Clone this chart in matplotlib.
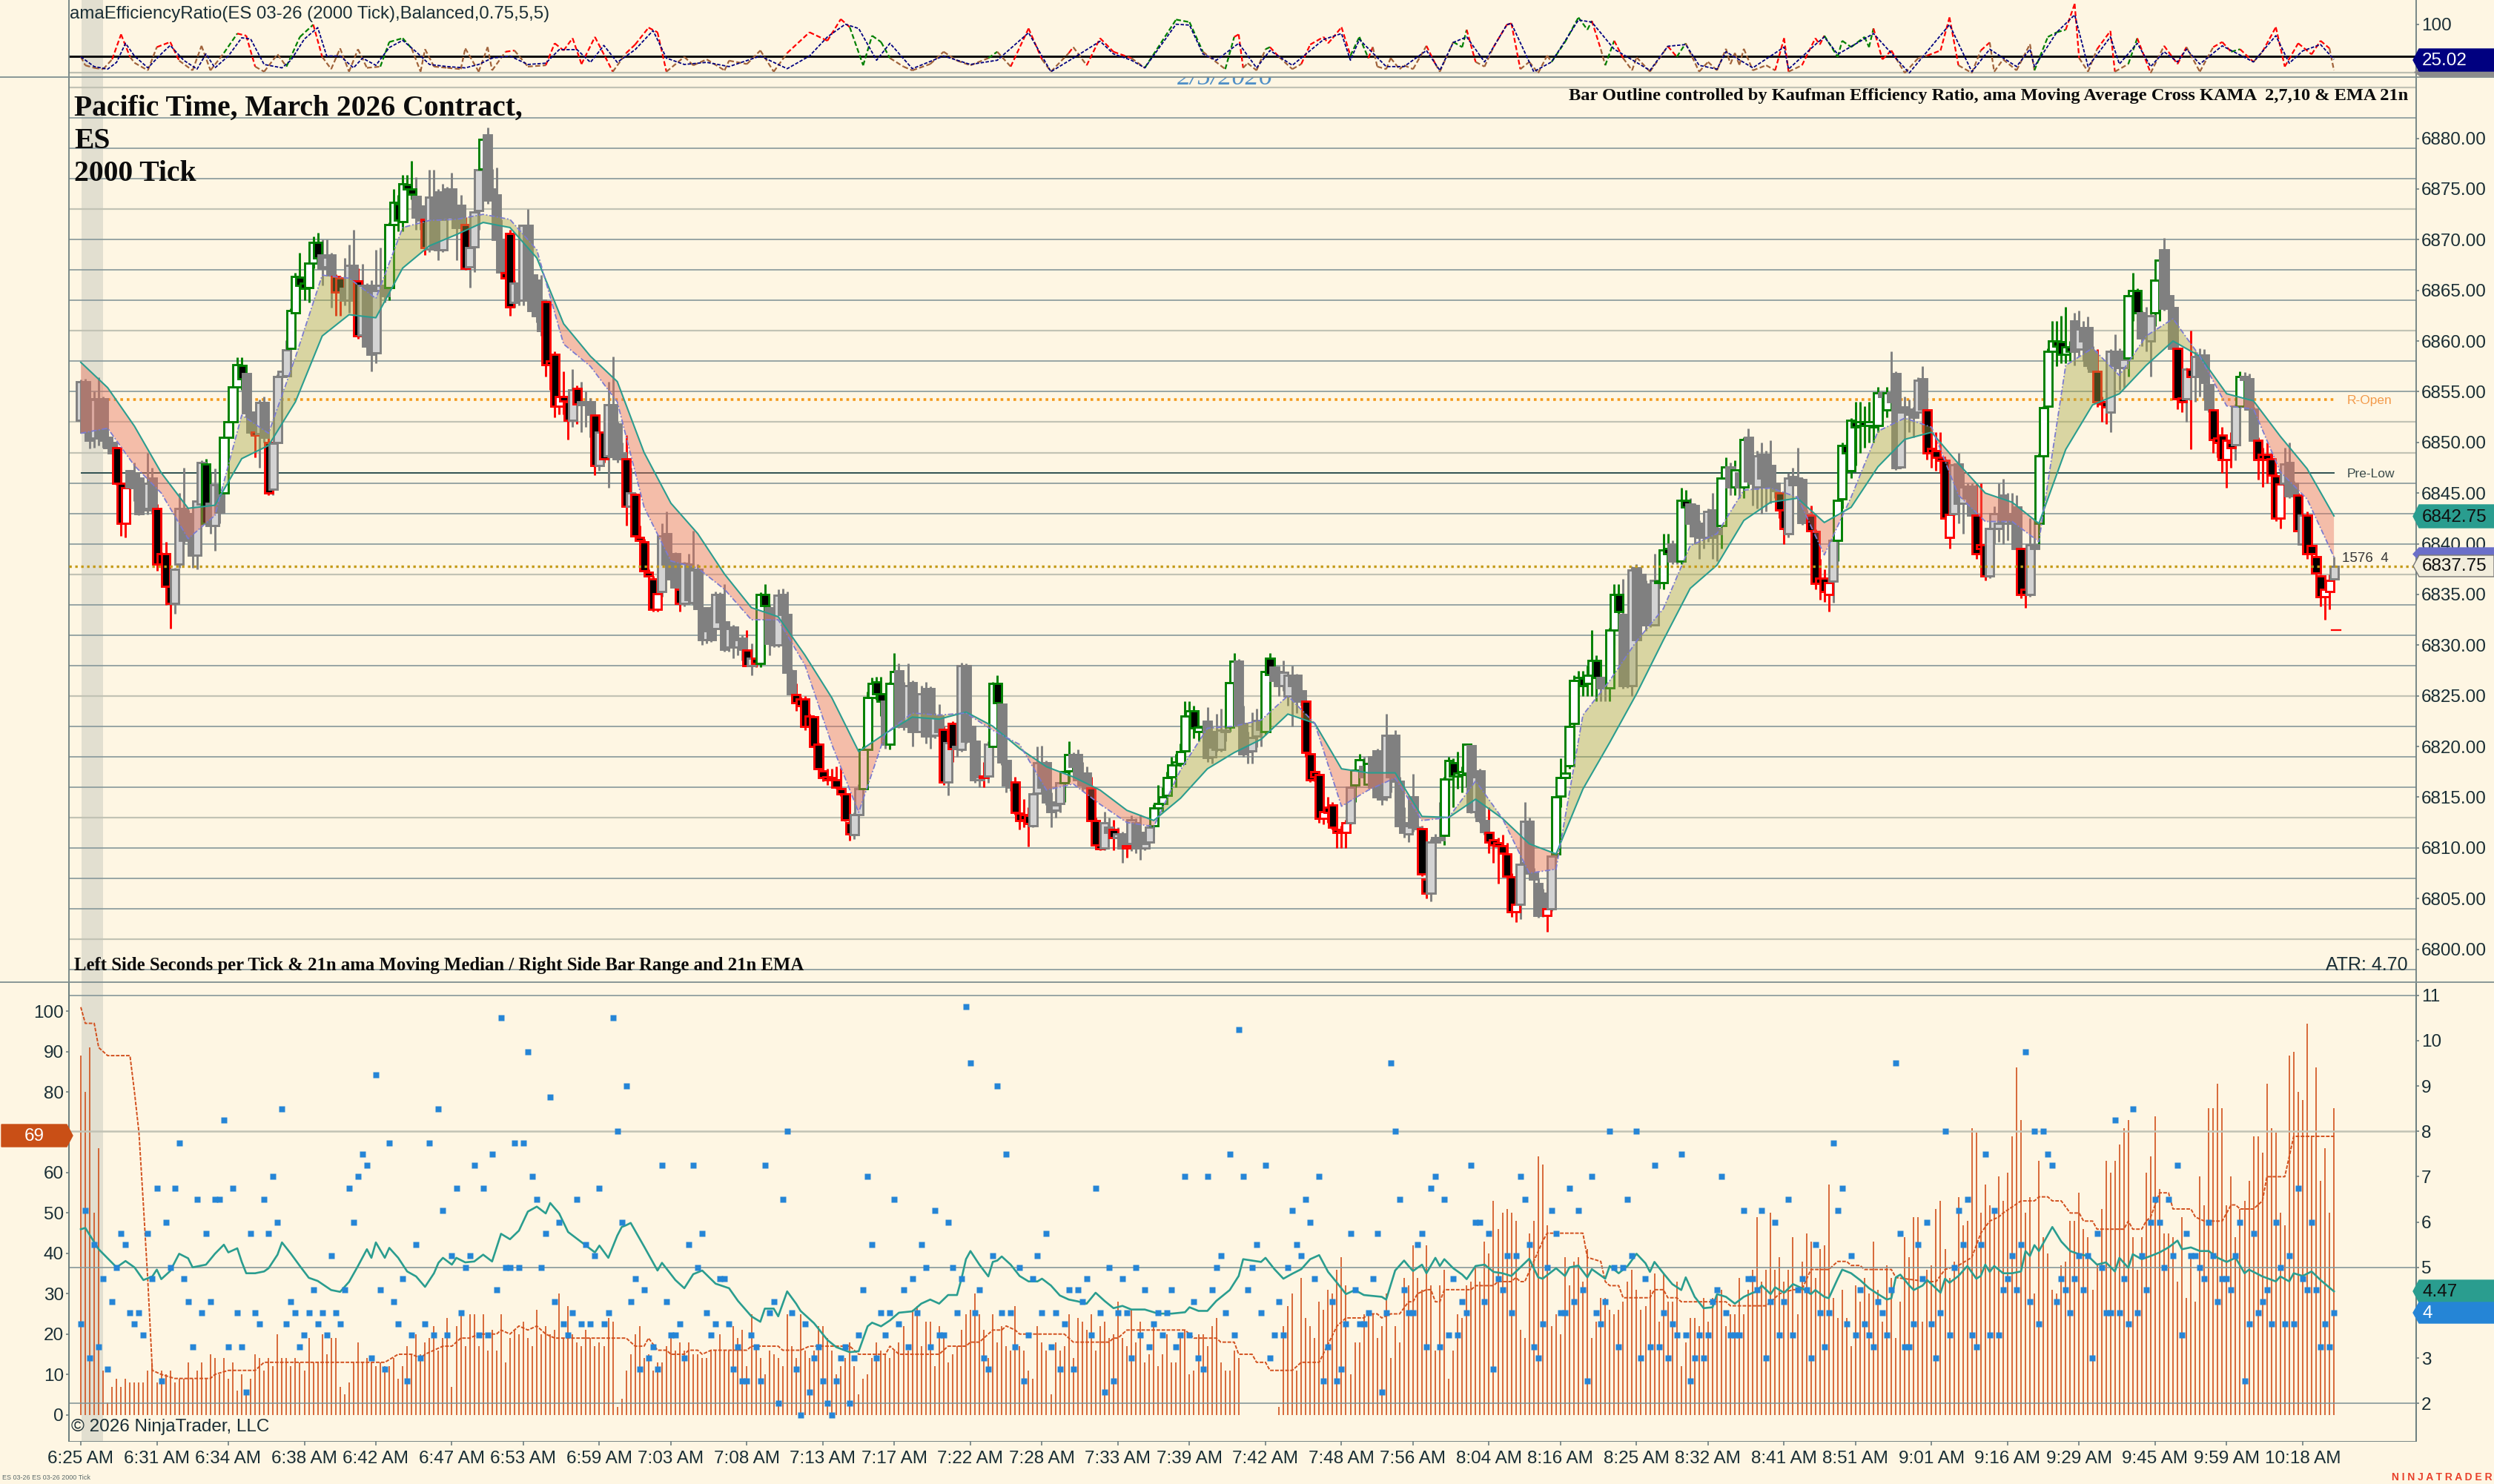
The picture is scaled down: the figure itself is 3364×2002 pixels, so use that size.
# ES 2000 tick chart, three panels, laid out in pixels of the 3364x2002 image
import matplotlib
matplotlib.use("Agg")
import matplotlib.pyplot as plt
from matplotlib.patches import Polygon
from matplotlib.lines import Line2D
import numpy as np

W, H = 3364, 2002
BG = "#FEF6E3"
SANS = "Liberation Sans"
SERIF = "Liberation Serif"

# price values are stored as points above 6800
opens = [
52.2,56,54.3,50.4,54.3,54.3,50.5,50,49.5,46,
42,47.2,47,46.5,46,43.5,46.5,43.5,39,39,
35.8,34.1,38,43.5,43,43,38.9,43.9,47.9,44,
41.8,45.8,45,50.5,52,55.5,57.6,56.8,53,51,
50.9,53.9,50,45.4,50,56.5,56.6,59.3,62.8,66.3,
65.7,65.3,67.7,69.7,68.5,67.3,68.5,66.4,66.2,65.2,
64,67.5,65.9,60.6,65.5,65.5,58.8,65,65.5,65.3,
71.5,73.5,71.8,75.4,75,74.3,73.3,72,69.1,74.2,
74.7,69,75,75,73,73.4,71.5,67.3,69.3,72.9,
77,80.3,75,74.4,70,66.7,70.6,63.8,65.7,64,
71.4,66.5,66,64,63.9,58,58.7,53.6,54.5,54,
52.2,55.3,54,54,54,52.7,47.7,51,48.7,53.7,
51.8,49,48.4,43.7,44.9,40.6,40.2,37.2,36.5,33.5,
35.3,41,38.7,39,35.5,34.1,38,34.2,37.5,33.7,
30.5,33.7,31.6,35,32.3,29.8,31.8,29.8,30.7,29.5,
28,28.7,28.2,35,33.7,33,30,35,33,27.5,
25.1,24.7,24.7,23,22.9,20.2,17.6,17,16.9,16.7,
15.8,15.3,12.5,11.3,13.3,15.8,19.7,24.8,26.4,25.2,
24.5,20.2,26.2,27.5,26,22.4,26.3,24,21.5,25.7,
25.7,21.1,23,21.7,16.5,22.3,20,19.7,28,22,
20.5,16.7,17.1,17.1,20,26.2,24.2,18.6,16.5,16.5,
13.4,13.3,13.2,12.2,15.4,18.4,18.4,14.5,13.7,14.4,
16.4,17.6,19.2,19.2,17.4,17.4,15.9,12.7,10.3,10,
12,11.8,11,11.4,10,10.4,12.5,11.5,10,10.6,
12.2,13.9,14.4,15.2,17,18.2,18.3,19.6,23,23.5,
21.5,21.9,22.5,19,21.5,19.7,21.6,21.9,26.3,28.4,
22.3,20.5,19.6,21,22.6,21.5,28.7,27.8,27.4,26,
25,27,27,25.5,24.5,19.3,17.5,17.2,12.9,14,
14.2,11.8,11.5,11.5,12.5,16.2,17.7,18,16.3,19,
19.6,15,15,21,21.1,16.6,12.5,11.4,15,12,
11.9,6.9,5.5,11,10.8,11.2,16.8,18.4,17.1,17.2,
17.4,20.1,13.6,17.6,12.7,11.5,10.8,10.5,10.2,9.4,
7.1,3.7,4.4,8.5,12.6,7.5,6.5,5.5,3.3,4,
9.4,15.1,16.9,18.1,22.3,26.5,26.7,26.2,27,28.5,
26.8,25.8,25.8,31.5,35,33,27,26,37.6,37,
36,34,32,36.3,36.2,39.5,40,38.5,38.3,44.3,
43.9,43.8,42,41.5,40.6,43.3,41.5,41.8,46.5,47.6,
45.6,47,45.6,50.5,48,45.6,48.8,48.8,47.7,46,
45,43.3,41,46.6,46.5,46.3,43,42.8,41.2,36.6,
36.6,35,36.3,40.3,44.4,49.7,47.2,52,51.7,52,
51.7,51.5,51.7,54.9,53.2,54.9,56.8,47.6,53.5,53.3,
53,53,56.3,53.2,49.4,49.2,48.5,48.2,40.6,43,
47.9,44,45.7,45.7,42.8,39.9,39.9,36.8,41.5,41.5,
44.8,42,43,43.6,39.5,35.5,35,39.9,42,48.7,
53.6,59,60,59.9,58.7,59.4,62,59.2,61.3,61.3,
59,57,54,54,53,59,59,57.4,58.3,64.5,
65,62.8,61,60,62.8,66,69,64.5,63.3,59.3,
54.4,54.3,57.2,56.5,58.6,58.6,55.7,53.2,50.4,50.7,
48.3,50,49.8,53.6,56.5,56.3,53.3,50.2,48.8,48.8,
48.4,46.7,42.5,46,48,46,44.8,40,42.8,39.8,
38.7,36.8,34.8,35.3,36.5]
closes = [
56,51,50.2,54.2,50.5,50.2,49.5,49,46,42,
45.5,45.6,45.5,43,43.3,46,43.3,38,38,35.8,
34.1,37.5,43.5,40.3,40.4,38.9,44.2,48,42,41.8,
45.8,43.1,50.5,52,55.5,57.7,56.3,52.9,51,50.7,
53.9,50.5,45,49.9,56.5,57,59.1,63,66.4,65.5,
65.2,67.7,69.7,68.2,67.2,68.3,66.5,64.8,64.8,64,
67.5,64,60.5,65.5,59.5,58.7,65,65.5,64.5,71.5,
73.7,71.9,75.5,75,74.5,72.2,71.9,69.2,74.2,69.2,
69,72,72.2,73,71.2,71.4,67.2,69.2,72.7,76.9,
79.9,73.9,74,70,66.8,66.2,63.4,65.7,64,71.4,
64.1,63,62.5,61,57.7,57.7,53.6,54.5,54.1,52.2,
55.2,53.8,53.7,53.7,52.8,47.7,51,48.4,53.7,48.6,
48.4,48.4,43.7,45,40.8,40.3,37.3,36.8,33.5,35.1,
40.8,38,36.5,35.7,34.1,38.1,34.5,37.4,33.6,30.5,
31.4,30.5,35,32.3,29.6,31.6,29.8,30.5,29.6,28,
28.7,28.2,35,33.9,30.2,30,34.9,33,27.3,25.2,
24.3,24,22,22,20,17.8,16.9,16.7,16.7,16,
15.3,12.8,11.4,13.3,15.8,19.7,24.8,26.2,25.2,24.5,
20.2,26.2,27.4,22,22,26,21.5,22,25.2,21,
21,22.9,21.5,16.5,20.4,19.8,19.8,28,20.5,20.5,
16.7,17,16.9,20.2,26.2,24.3,18.5,16.2,16,13.5,
12.7,12.8,12.4,15.3,18.4,16,14.5,13.6,14.2,16.4,
17.5,19.2,18,16.7,16.2,15.9,12.7,10.3,9.9,12.5,
11.5,11,11.4,10,10.2,12.8,10,10,10.4,12,
13.9,14.4,15,16.9,18.2,18.5,19.5,23,23.5,21.8,
21.9,22,18.9,19.9,19.7,21.6,21.5,26.3,28.4,22.1,
19.3,19.5,20.9,22.6,21.7,27.4,27.1,26.5,26,27.3,
27,26,24.5,24.5,19.4,16.7,17,12.9,13.6,13.5,
12,11.5,11.7,12.5,16,17.7,18.7,17,18.3,16,
15,14.8,21.1,17,16.6,12.2,11.5,12.2,12,11.9,
7.4,5.5,10.6,10.6,11,16.8,18.6,17.1,17.4,17.5,
20.2,13.6,17,12.7,11.6,10.6,10.3,10.2,9.5,7.2,
3.7,4.4,8.4,12.6,7.5,6.9,3.3,3.5,4,9.2,
15,16.9,17.4,22,26.5,26.8,26,27,28.5,26.8,
25.8,26,31.5,35,33.3,26,26,37.4,30.5,32,
32,32.5,36.4,36.2,39.4,39,38.3,38.3,44.3,43.6,
42,40.8,40.6,40.7,43.2,40.6,41,46.5,47.6,45.6,
47.3,45.6,50.3,46.2,46,48.7,46.5,45.6,45.6,45.2,
43.3,41.5,46.5,45.8,45.8,42.1,42.2,41.3,36.1,36.1,
35.3,36.2,40.3,44.3,49.7,49,52.2,51.5,52,51.7,
52,51.7,54.9,54.5,54.9,54,47.5,53,53,52.8,
52.5,56.1,53.3,49,49,48.5,48.2,42.5,42.9,47.8,
44,45.6,44.5,42.8,39,39.5,36.8,41.5,43,42,
42,42.4,42,39.5,35,35,39.9,39.5,48.7,53.4,
59,60,59.5,58.7,59.4,59,59,61.2,60,57.6,
57,54,53.8,53.5,59,57.6,57.4,58.2,64.5,65,
62.8,60.3,60.3,62.5,66,68,63.2,63.3,59.3,54.3,
54,57.2,56.5,58.5,56.5,55.9,53.3,50.3,50,48.3,
50.2,49.5,53.6,56.5,56.2,53.3,50.2,48.3,48.4,48.3,
46.8,42.5,45.9,47.9,44.7,44.8,41.3,42.8,39,39,
37.1,34.8,35.5,36.4,37.75]
highs = [
56.2,56.3,55,55,56.4,54.5,51,50.5,49.9,46.2,
45.7,47.3,48,46.8,46.2,49,47.5,43.9,39.2,40.2,
36,37.6,45,47.5,43.3,43.5,44.5,48.2,48.4,47,
47.4,46,50.9,52.7,55.7,58.4,58.4,57,53.2,52.2,
54.2,54.5,52,50,56.7,57.1,60.1,63.2,66.7,68.7,
66,67.9,70.3,70.7,70,70,68.7,66.6,66.4,68.2,
69.5,71,67.2,67.6,65.7,66,69,69.2,66.8,71.7,
75,74.4,76.4,76.4,77.8,76.2,73.5,72.2,76.9,76.9,
75,75.5,75.2,76.6,73.3,74.4,72.2,69.3,74,77,
80.2,81.1,77,77.1,72,68.7,71,66,70,71.5,
73,68,66.2,66.5,64,58.2,59,54.8,57,54.3,
57.2,55.6,56,55,54.4,53.2,51.2,52.5,56,58.5,
52,50,50.7,47.5,45,41.8,40.5,37.5,36.8,35.3,
42,43.2,39.3,39.2,36.3,38.2,39,41.3,38,37,
31.6,33.8,35.3,35.2,36,31.8,32,30.7,31,31.5,
30.2,30,35.2,36,34,33.5,35.5,35.6,35.3,27.6,
26.2,24.9,25,23.2,23,20.4,18.2,17.8,17.8,18,
17.9,15.4,13,13.5,16.3,20,25.4,26.8,26.9,26.9,
24.7,26.4,29.2,28.2,26.4,28.2,26.5,24.3,26,26.4,
25.9,23.3,24.2,22,20.8,22.5,23.8,28.3,28.2,22.2,
21,17.4,18.5,20.5,26.4,27,24.5,18.8,17,17,
13.6,14.8,14,15.5,20,20.1,18.6,15.5,14.5,16.6,
18,20.5,19.4,19.7,18.5,18,17,13,10.6,13.6,
13,12.8,12,11.6,11.4,13.2,12.9,13.3,11,12.3,
14.3,16.2,16,17.5,19,19.3,20.3,24.5,24.5,24,
22,22.5,23.9,20.5,23.2,23.7,22.2,26.6,29.2,28.6,
24,21.5,23.4,23.7,23,27.7,29.2,28,27.5,28.5,
27.3,28,27.2,25.7,24.7,19.5,17.8,17.4,13.8,15,
14.5,12,12.2,12.8,16.2,18,19.3,19,18.5,19.2,
19.8,15.3,23.2,21.2,21.6,17,14,13,17.3,12.3,
12.2,7.5,10.9,11.4,14.5,17,19,18.8,19.5,18,
20.3,20.3,17.2,17.8,13,14,11.5,11,11.3,10.5,
7.5,6,8.6,14.5,13,8,7,6,6.5,9.5,
15.2,18.8,18.2,23.3,27,27.5,27.5,28,31.5,29,
27,26.5,31.7,36,36,36.5,30,37.8,38,37.5,
36.4,36,39,36.8,41,41,40.3,40.5,45.5,45.3,
44.5,44,42.3,42,43.5,45,41.8,46.8,48.5,48,
48.2,47.3,50.5,51.4,48.4,49.2,50,49.2,50.2,46.3,
45.5,43.5,47,47.5,49.5,46.5,43.3,43.8,41.4,38.5,
37.5,36.6,41.5,44.5,50,50,52.4,54,54,53.6,
54,53.5,55.5,55,55.5,59,57,53.3,54.5,54.2,
53.5,56.4,57.5,54,50.5,51,51,48.4,44,47.9,
49,47,46,46,45.9,46,40,41.7,43.7,46,
46.4,45,45,44.8,43.7,36,42.5,42.5,48.9,53.6,
59.3,62,62,62.5,63.4,60,62.8,63,62,62.4,
59.5,59.2,54.5,56,59.2,60.7,59.3,60.7,64.8,66.7,
65.2,63,63.4,62.7,66.4,69,70.2,65,63.5,60.5,
56,57.4,61,59,59.3,59.2,56,54,53,51.5,
50.4,51,53.8,57,56.9,56.8,53.5,50.5,49.5,50,
49,47,46.2,49.5,50,46.2,45,43,43.2,40,
39,37,35.8,37,38.7]
lows = [
52.2,50.5,49.4,49.5,49.7,49.5,49.5,49,45.8,40.8,
40.6,44,44.2,42.8,42.9,42.9,43,37.3,37.4,34,
31.6,33.1,37.6,40,40,37.6,37.5,43.7,41.8,41,
39.3,42,44.6,50,51,55,55.2,52.5,50.8,48.5,
47.5,50,44.8,44.8,49.8,55,56.5,59,62.5,64.1,
64,63.8,67.2,67.2,65.5,66.5,63.3,62.5,62.5,63.5,
62.8,63.5,60.2,60.3,59.3,57,57.8,64.5,63.8,64,
70.8,70.8,70.8,74.5,74,71,71,68.5,68.8,69,
68,68.8,71,72.5,68,71,67,65.3,66.8,71,
76.8,73.5,73.8,69.5,66.5,64,62.5,63.3,63.5,63.5,
63.5,62.5,61.8,60.5,56.5,55.2,52.5,52.8,52.8,50.3,
51.5,51.8,51,51.5,50.5,46.8,47.2,48,45.5,48.4,
48,48,41.8,43.3,40.6,39.8,37,36.5,33.3,33.3,
34.8,37.8,36.3,35.5,33.3,33.8,34.2,34,33.5,30,
30.2,30.3,31.3,31.8,29.4,29.4,28.7,29,28.5,27.9,
27,27.8,27.8,33.7,29,29.8,29.8,32.8,27,25,
23.5,23.8,21.6,21.8,19.8,17.5,16.6,16.2,16.4,15.8,
15.1,12.6,10.7,10.9,13.1,13.3,19.3,23.7,24.6,23,
19.8,19.7,25.5,21.8,21.6,22.1,20,21.4,21,20.3,
19.8,20.8,21,16.2,15.2,18.5,19,19.5,20.3,20.2,
16.4,16,16,16.4,19,24,18.2,15.5,15.6,13.3,
11.8,12,10.1,12,15.2,15.5,14.2,12,13,13.5,
14.5,16.5,16.8,16.2,15.6,15.6,12.4,10,9.8,9.8,
11,9.8,10,8.5,9,9.7,9.5,8.8,9.8,10,
11.3,13,13.6,14.8,16.6,16,18,19.3,21,20.8,
20.5,20.4,18.5,18.3,19.5,19.5,20.5,21.5,26,21.9,
19,18.3,18.3,19.9,20,21.2,26.2,26,25,25.5,
24,22,23.3,24,19,16.5,16.6,12.5,12.3,12.5,
11.8,10,10,10,12.3,14.5,17.3,16.5,16,15.7,
14.8,14.2,14.7,15.5,14.5,11.8,11,10.6,11.6,11.4,
7.2,5,4.7,9.2,10.6,10.3,15,14,15.8,15.5,
16,13.4,13,12.5,11.3,9.5,8.5,6.5,8.5,7,
3.2,2.7,3,8.3,7.2,5,3.1,3.2,1.7,3.8,
9,14,15,17.8,21,25.2,25,25,25,24.5,
24.5,24.5,24.5,30,32.5,25.7,25.8,25,30.3,31.7,
31.4,31.8,31.9,35.6,35.5,38.2,38,38,38,42.5,
41.5,40,38.5,39.5,40.2,38.5,38.3,39.5,45,44.8,
44.8,44.5,44.5,46,43.8,43.5,43,43.2,44,44.5,
42.5,40,40.6,42.8,45,41.9,41.5,41,35.5,34.5,
34.3,33.3,34.2,38.3,43.5,47,46.5,47.7,49,49.5,
50,50,51,52,52.5,53.5,47.3,47.4,50.5,51,
50.5,52.7,51,48.3,47.5,47.2,47,42.2,39.5,42.8,
42,41,43,41.8,38.5,39,36.4,36.6,40,40.2,
40,40.3,40,39.3,34.6,33.7,34.8,39,39.5,46.2,
53,58,57.5,57.8,57.8,58,57.6,58.5,58,57.2,
56.5,53.5,52,51.8,51,57,55.2,55.4,56.5,62,
62,59.5,59,56.5,61.5,62,63,62.8,59,53.3,
53,52,49.3,54,54.5,54.2,53,49,48.5,47,
45.5,47.5,48.2,50.6,55.5,53,50,46.3,45.6,46,
45.3,42.2,41.5,45.8,44.5,44.5,41,39.8,38.5,38.5,
36.5,33.8,32.5,33.5,36.3]
# outline state per bar: n grey, r red, g green, ten bars per piece
outline = "".join([
"nnnnnnnnrr","rnnnnnnrrr","rnnnnnnngn","nngggggnnr","nnrnnnnggg","ggggnnnrrn","nnrnnnnnng","gggggnnrnn","nnnnnnrnnn","gnnnnrrnnn",
"nnnnrrrrrr","nrnnnrnrnn","nnrnrrrrrr","nnnnrnnnnn","nnnnnnnnnr","nrggnnnnnn","rrrrrrrrrr","rrrnnggggg","nggnnnnnnn","nnnrnrnnnn",
"nnrnggnnnr","rrrnnnnnnn","ggnnnnrrrn","nrnnrnnnnn","gggggggggg","ggnnnnnggn","nnnnnggnnn","nnnnrrrrrr","rrrrnggngn","nnnnnnnnnn",
"rrnnnggggg","gnnnnrrrrr","rrnnnnnnrn","gggggggggg","nngggnnnnn","nnngggnngg","nnnnnnnggn","gngnnnnnnn","rrnnnnnrrr","rrnggggggg",
"gggngnnnnn","nnnrrrrrrn","nnnnrrrnnn","nnnnrrnngg","ggggggnnnn","nrrrnnnngg","gnnnggnnnr","rnrnnnnrrr","rrngnnnrrr","rrrnnnrnrr",
"rrrrn"])

# knots every 6 bars for the two averages on the price panel
KNOT_BARS = list(range(0, 505, 6))
ema_knots = [57.9,55.4,51.6,47,43.5,43.8,48.4,49.7,54,60.5,62.6,62.3,67.2,69.4,70.5,71.7,71.2,68.2,61.7,58.5,
56,49,44,41,37,33.7,32.8,29,24.8,19.5,21.3,22.9,22.7,23.4,22,19.8,18,17,15.7,13.7,
12.7,14.9,17.8,19.4,20.7,23.2,22.3,17.8,17.4,17.4,13.1,13,14.8,12.9,10.4,9.4,15.8,20.4,25.2,30.5,
35.6,37.9,42.3,44.1,44.5,42.1,43.6,47.6,50.3,51,47.9,45,44.1,42,49.3,53.7,54.8,57.6,60,58.5,
54.8,54.1,50.6,47.4,42.75]
kama_knots = [50.9,51.4,47.7,45,40.5,42.8,52.7,50.9,58.4,66.5,66.2,64.2,71.2,71.9,72,72.5,72,69,59.7,57.5,
54,43.6,38.3,37.6,35.5,32.5,32.5,28,20.2,13.5,21.3,23.3,23.1,23.3,21.6,20.2,15.7,16.3,14.3,12.5,
12.1,17.7,21.8,22,22.6,25,22.3,14.1,15.7,16.9,12.7,13,16.6,12.9,7.5,7.9,23.1,26.5,30.4,33.6,
39.8,41,45.3,45.5,44.6,38.9,44.6,51.1,52.4,51.5,44.8,42.2,42.2,40.2,57.6,59.3,56.6,60.5,62.2,58.5,
53.6,53.3,47.1,44.4,38.7]
TICK_BARS = [0,17,33,50,66,83,99,116,132,149,166,182,199,215,232,248,265,282,298,315,331,348,364,381,397,414,431,447,464,480,497]
TICK_LABELS = ["6:25 AM","6:31 AM","6:34 AM","6:38 AM","6:42 AM","6:47 AM","6:53 AM","6:59 AM","7:03 AM","7:08 AM","7:13 AM",
"7:17 AM","7:22 AM","7:28 AM","7:33 AM","7:39 AM","7:42 AM","7:48 AM","7:56 AM","8:04 AM","8:16 AM","8:25 AM","8:32 AM",
"8:41 AM","8:51 AM","9:01 AM","9:16 AM","9:29 AM","9:45 AM","9:59 AM","10:18 AM"]

# bottom panel, left scale
bar_range = [
89,80,91,50,66,11,3,7,9,7,9,8,8,8,8,11,13,8,11,10,11,8,9,9,13,9,11,13,9,15,14,10,14,9,13,6,10,6,9,15,
14,11,14,12,20,14,14,12,14,13,11,19,13,13,20,15,19,19,7,5,8,13,18,13,14,13,12,13,12,12,14,9,12,17,15,20,15,18,19,22,
16,19,24,7,22,25,17,25,25,17,25,16,21,16,25,13,19,21,20,23,19,17,26,20,22,20,21,30,19,27,20,18,17,21,19,17,18,17,24,23,
2,4,11,
15,20,22,14,15,11,13,13,17,20,16,18,16,18,15,15,14,14,16,16,20,16,16,22,19,21,12,25,17,14,10,16,15,14,12,25,17,14,25,16,14,16,22,22,19,16,10,12,14,18,12,5,9,10,14,18,16,15,14,16,18,22,16,26,27,17,23,23,12,22,20,13,15,17,21,25,26,30,25,21,14,25,18,22,17,16,27,17,16,11,9,22,18,16,5,18,16,17,25,14,24,23,21,25,16,22,23,19,20,28,19,17,26,18,23,13,15,23,12,15,20,13,13,20,21,10,11,20,20,17,22,24,13,11,11,16,14,
0,0,0,0,0,0,0,0,
2,22,27,30,11,34,24,22,19,28,26,31,30,36,39,32,10,18,18,25,25,25,19,22,30,14,22,18,34,
32,42,34,31,42,32,16,32,36,9,16,25,24,32,33,37,33,43,40,53,46,50,51,50,48,21,19,45,48,64,62,47,22,25,20,39,32,38,39,33,41,19,23,29,29,26,25,26,28,33,36,31,26,27,31,35,23,35,28,28,33,12,18,24,24,22,29,23,29,30,31,22,25,25,34,25,31,36,49,33,36,50,36,39,33,36,44,25,38,45,43,34,41,42,57,29,24,31,24,17,32,28,34,30,43,31,23,37,34,19,28,44,39,49,49,23,36,37,51,53,41,34,38,54,47,48,71,70,50,57,52,51,59,53,
60,69,86,73,50,54,30,63,44,40,31,30,37,38,48,48,55,46,44,31,37,51,63,60,63,67,71,73,44,36,44,60,64,74,56,45,45,44,33,49,29,40,28,59,52,76,76,82,76,52,59,44,51,53,58,69,69,65,82,71,70,50,47,89,90,80,78,97,69,86,58,66,50,76]
ORANGE_BARS = [0,1,3,4,5,6,11,12,13,14,15,16,18,21,29,30,33,39,41,68,71,74,76,77,81,83,85,87,89,93,94,96,98,100,102,104,106,122,124,126,127,129,131,132,135,136,138,139,141,149,150,156,157,161,163,172,174,180,181,183,192,194,198,199,201,204,206,207,209,210,220,222,230,231,232,234,247,249,254,255,258,259,262,263,265,266,271,273,277,281,283,287,288,290,291,293,295,297,298,299,301,302,303,304,305,311,312,316,317,320,321,322,323,325,327,328,336,337,340,341,342,344,345,351,352,354,355,357,358,368,369,377,380,383,385,387,391,393,395,396,398,399,405,406,413,415,417,420,423,425,427,429,430,434,437,438,440,441,443,445,447,448,450,451,457,458,459,461,462,463,465,467,468,472,473,475,479,481,482,483,486,488,489,493,495,504]
orange_vals = [101,97,97,91,90,89,89,80,70,52,33,11,10,9,9,10,11,11,13,13,15,15,14,15,17,17,19,19,20,20,21,20,22,21,22,20,19,19,17,17,19,16,16,15,15,16,16,15,16,16,17,17,16,16,17,17,15,15,17,15,15,17,17,18,18,21,21,22,21,20,20,18,18,19,19,21,21,19,19,18,18,15,15,13,13,11,11,13,13,22,24,24,25,25,24,25,25,28,28,30,31,31,28,28,31,31,32,32,33,33,34,33,33,38,43,45,45,39,38,33,32,32,29,29,31,31,29,29,28,28,27,27,30,31,31,36,36,38,38,37,37,36,36,34,33,33,36,37,39,45,48,49,50,53,53,54,54,53,53,50,50,48,48,46,46,48,46,46,48,49,55,55,51,51,49,48,48,52,52,51,51,53,59,59,69,69]

# bottom panel, right scale
spt_dots = [
3.75,6.25,3,5.5,3.25,4.75,2.75,4.25,5,5.75,5.5,4,3.75,4,3.5,5.75,4.75,6.75,2.5,6,5,6.75,7.75,4.75,4.25,3.25,6.5,4,5.75,4.25,6.5,6.5,8.25,3.25,6.75,4,3.25,2.25,5.75,4,
3.75,6.5,5.75,7,6,8.5,3.75,4.25,4,3.25,3.5,4,4.5,3.75,4,3.5,5.25,4,3.75,4.5,6.75,6,7,7.5,7.25,3,9.25,4.5,2.75,7.75,4.25,3.75,4.75,2.5,3.5,5.5,3,3.75,7.75,3.5,
8.5,6.25,3.5,5.25,6.75,4,5,5.25,7.25,3.5,6.75,3.5,7.5,4.5,10.5,5,5,7.75,5,7.75,9.75,7,6.5,5,5.75,8.75,4.25,6,3.75,3.5,4,6.5,3.75,5.5,3.75,5.25,6.75,3.75,4,10.5,8,6,9,
4.25,4.75,2.75,4.5,3,3.25,2.75,7.25,4.25,3.5,3.5,3.75,3,5.5,7.25,5,5.75,4,3.5,3.75,4.75,4.75,3.75,2.75,3.25,2.5,2.5,3.5,3.25,2.5,7.25,4,4.25,2,6.5,8,4,2.75,1.75,3.75,2.25,3,3.25,2.5,2,1.75,2.5,3,3.25,2,3,3.5,4.5,7,5.5,3,4,3.5,4,6.5,3.75,4.5,3.25,4.75,4,5.5,5,3.25,6.25,3.5,3.5,6,5,4,4.75,10.75,9.5,4,4.5,3,2.75,5.25,9,4,7.5,4,3.25,5,2.5,3.5,4.75,5.25,4,5.75,3.25,4,2.75,3.75,4.5,2.75,4.5,4.25,4.75,3.5,6.75,4,2.25,5,2.5,4,4.75,4,3,5,3.5,4.5,3.25,3.75,4,3.5,4,4.5,3.25,3.5,7,3.5,4.25,3,2.75,7,4.5,5,5.25,4,7.5,3.5,10.25,7,4.5,5,5.5,4,7.25,3,3.5,4.25,3.5,5,6.25,5.5,5.25,6.5,6,4.75,7,2.5,3.25,4.25,2.5,2.75,3.75,5.75,4.5,3.75,3.75,4,4.75,5.75,2.25,4,9.5,8,6.5,4.5,
4,4,5.5,5.75,3.25,6.75,7,3.25,6.5,3.5,4.75,3.5,4.25,4,7.25,6,6,4.25,5.75,2.75,4.75,4.5,5.25,4,5.25,7,6.5,5.5,3.25,3,3.75,5,6.25,5.75,4,4,6.75,4.25,6.25,4.5,2.5,7,4,3.75,4.25,8,5,3.25,5,6.5,5.25,8,3,4.75,3.25,7.25,3.25,4,3,3.75,3.5,7.5,3.5,2.5,3,3.5,3,3.5,4.25,4.5,7,4,3.5,3.5,3.5,6.25,4.75,4.75,4.5,6.25,3,4.25,6,3.5,4.25,6.5,3.5,4.5,4.75,4.5,3,5.5,4,3.25,4,7.75,6.25,6.75,3.75,5.25,3.5,4.5,3.75,3.5,3.25,4.25,4,3.5,4.5,9.5,5.75,3.25,3.25,3.75,5.5,4.75,6,3.75,3,4,8,3.5,5,6.25,5.5,6.5,3.5,3.25,5.5,7.5,3.5,6.25,3.5,4.5,4.75,5.25,4.5,5.5,9.75,4.25,8,3.75,
8,7.5,7.25,4.25,4.75,4.5,4,4.75,5.25,4.5,5.25,3,5.75,5,4,4,8.25,4,4.75,3.75,8.5,4,5.25,4.5,6,6.5,6,5,6.5,5.25,7.25,3.5,5.75,5.25,5.25,5,4.75,6,5.25,4.25,4.75,4.75,4.5,5.25,6,2.5,3.75,5.75,4,4.25,4.5,3.75,6,5,3.75,5.25,3.75,6.75,4.75,4.5,6,4.5,3.25,3.75,3.25,4]
TEAL_BARS = [0,1,4,8,10,12,14,16,17,18,20,22,24,25,28,30,32,33,35,36,37,39,41,42,44,45,47,49,51,53,56,58,60,62,64,65,66,68,69,71,73,75,77,79,80,81,83,84,86,88,90,92,94,96,98,100,102,104,105,107,109,111,113,115,116,118,120,121,122,
123,126,129,130,133,135,137,139,142,145,147,150,152,153,155,156,158,160,161,164,167,169,172,174,176,177,179,181,183,186,188,190,192,194,196,197,198,199,201,203,204,205,206,208,210,212,214,215,217,219,221,223,225,227,229,231,233,235,238,241,244,247,248,250,252,254,257,259,260,262,264,265,267,269,271,273,275,277,279,281,283,285,287,289,291,292,294,296,
297,298,300,301,303,304,305,307,309,310,312,314,316,318,320,322,324,326,327,330,332,333,335,337,338,341,342,344,346,348,350,351,352,354,356,358,359,361,363,365,366,368,370,372,374,375,376,378,379,381,383,385,387,388,390,391,393,394,396,398,400,402,404,405,406,407,409,410,412,413,416,417,418,420,422,424,425,426,427,428,430,
431,432,434,435,436,437,438,441,443,445,447,449,451,453,455,456,458,459,461,463,465,467,469,470,472,474,476,478,480,482,484,485,488,491,492,494,495,497,499,501,504]
teal_vals = [5.84,5.87,5.4,5,5.14,5,4.72,4.8,4.95,4.74,4.92,5.3,5.2,5,5.06,5.3,5.5,5.33,5.42,5.12,4.87,4.87,4.91,4.98,5.28,5.55,5.3,5.03,4.77,4.7,4.5,4.46,4.68,5.03,5.4,5.21,5.55,5.21,5.43,5.21,4.91,4.8,4.57,4.87,5.1,5.21,5.06,5.21,5.11,5.13,5.28,5.13,5.74,5.62,5.81,6.23,6.34,6.19,6.42,6.19,5.78,5.63,5.48,5.33,5.48,5.21,5.7,5.89,5.93,
5.98,5.46,4.93,5.1,4.72,4.54,4.85,4.93,4.64,4.54,4.26,3.92,3.8,4.09,4.09,3.92,4.47,4.2,4.04,3.77,3.4,3.24,3.13,3.15,3.7,3.78,3.7,3.83,4,4.03,4.2,4.29,4.2,4.39,4.39,4.75,5.18,5.36,5.06,4.8,5.12,5.15,5.24,5.06,4.81,4.69,4.69,4.75,4.6,4.38,4.29,4.25,4.2,4.44,4.26,4.1,4.15,4.07,4.07,3.98,3.98,4.01,4.12,4.04,4.04,4.26,4.5,4.81,5.18,5.15,5.12,5.21,4.96,4.75,4.86,4.96,5.18,5.27,4.9,4.66,4.41,4.5,4.39,4.37,4.35,4.29,4.93,5.15,
5.03,4.92,5.06,4.87,5.21,5.03,5.18,4.98,4.84,4.74,5.03,5.06,4.9,4.87,4.81,5,5.19,4.78,4.75,4.98,4.81,5,5.04,4.78,4.96,4.75,5.03,4.87,5.03,5.3,5.09,4.9,5.12,4.87,4.63,4.5,4.78,4.35,4.1,4.12,4.41,4.35,4.2,4.35,4.44,4.47,4.6,4.41,4.56,4.44,4.63,4.54,4.41,4.5,4.35,4.32,4.75,4.95,4.87,4.72,4.54,4.41,4.29,4.32,4.78,4.84,4.6,4.5,4.6,4.72,4.44,4.75,4.66,4.81,5.03,4.75,4.81,5.06,4.9,5.03,4.87,
4.87,4.87,4.91,5.36,5.25,5.49,5.36,5.89,5.57,5.36,5.29,5.25,5.06,5.11,4.91,5.21,4.99,5.29,5.18,5.25,5.33,5.44,5.59,5.4,5.44,5.36,5.36,5.21,5.12,5.21,4.87,4.95,4.8,4.69,4.8,4.69,4.87,4.81,4.91,4.72,4.47]

# efficiency ratio panel
ER_BARS = [0,1,3,5,7,9,11,12,15,17,20,22,25,27,29,32,35,37,39,41,44,46,49,52,54,56,58,60,62,64,67,69,72,74,76,77,79,82,85,86,89,91,92,95,97,100,104,106,108,110,112,115,119,122,124,127,129,131,135,137,140,144,145,149,152,155,158,163,167,170,172,175,177,179,181,184,186,190,193,196,199,203,205,208,212,215,217,221,222,225,228,231,235,238,245,248,251,
256,258,259,260,261,263,265,266,268,271,273,275,278,279,280,282,284,286,288,289,290,292,293,295,296,298,301,303,304,307,309,310,312,314,316,319,320,322,324,326,328,329,332,335,337,338,340,341,343,345,347,348,351,355,357,359,362,364,366,368,369,370,371,372,374,377,379,381,382,385,388,389,390,393,394,396,399,400,401,403,405,406,408,411,413,416,418,420,423,425,427,428,430,433,436,437,440,442,444,446,447,449,451,454,455,458,460,463,466,469,471,474,477,479,481,483,486,488,491,493,496,499,501,503,504]
er_vals = [23,3,-3,-6,17,76,23,9,-9,46,58,14,-9,49,-9,32,78,73,0,-12,29,0,70,99,23,-6,43,-12,41,-3,0,58,67,43,-12,41,0,-3,-6,43,-12,46,-9,35,38,0,3,55,38,67,6,70,-12,32,52,92,81,-12,23,3,17,-9,14,6,38,-12,32,81,61,112,93,3,73,58,20,0,-9,6,35,14,3,20,35,0,90,17,-12,32,46,3,67,35,20,-3,111,105,35,
-6,70,76,-3,8,-9,41,46,23,-6,6,52,70,55,67,93,26,70,20,46,0,-6,20,-6,3,-6,49,6,-12,58,46,87,11,0,46,99,102,-6,11,-15,26,11,58,116,87,108,41,3,61,20,-9,22,-12,48,23,55,-12,11,-9,42,6,32,4,42,-9,3,-9,67,-12,3,67,52,73,23,61,46,70,46,90,17,38,20,-15,20,26,38,116,3,-15,38,57,-12,17,-9,53,-9,70,81,87,148,20,-12,41,84,-12,6,67,-15,49,6,46,-12,46,58,35,41,11,35,93,0,55,29,61,43,-9]
NAVY_BARS = [0,3,6,8,10,12,15,18,20,23,26,28,30,33,36,38,41,45,47,50,53,55,58,61,63,66,69,72,75,78,82,86,89,92,96,100,104,107,111,114,117,120,124,128,131,135,140,145,152,158,163,167,171,174,178,181,186,193,199,205,212,217,222,228,231,235,238,245,248,251,254,
259,263,266,271,278,282,284,286,292,296,301,304,307,310,314,319,320,325,329,335,338,343,351,355,359,362,366,368,374,381,382,388,390,393,401,409,418,423,427,433,436,437,442,446,449,454,456,460,463,466,469,471,474,479,486,491,494,497,501,504]
navy_vals = [23,0,-6,10,55,25,-3,30,50,15,-6,30,-3,25,68,65,5,-3,15,65,92,25,25,-3,20,3,45,62,35,5,0,-3,5,20,25,5,8,40,40,10,50,10,40,85,20,5,10,0,25,-5,25,70,100,90,15,55,-5,25,5,15,80,-12,20,60,30,15,-3,100,98,30,15,
55,-3,38,3,64,78,15,64,0,0,38,-9,57,70,11,99,102,-12,11,110,105,41,-9,48,52,3,-6,35,-3,46,-6,52,70,29,78,-15,99,-12,41,0,41,0,81,122,0,70,6,55,0,35,11,41,6,49,11,73,8,37,52,17]
FOOT_MARK = 31.5  # lone red dash under the last bar
LEVEL_OPEN, LEVEL_LOW, LEVEL_LAST = 54.25, 47.0, 37.75


def px_rect(x0, y0, x1, y1):
    return [x0 / W, 1 - y1 / H, (x1 - x0) / W, (y1 - y0) / H]


def pair(a, b):
    n = min(len(a), len(b))
    return a[:n], b[:n]


def draw_tag(fig, x0, x1, y0, y1, fill, text, color, flip=False, size=17.5, edge=None):
    # value tag with a little point towards the plot
    tip = 8
    if flip:
        pts = [(x0, y0), (x1 - tip, y0), (x1, (y0 + y1) / 2), (x1 - tip, y1), (x0, y1)]
    else:
        pts = [(x0, (y0 + y1) / 2), (x0 + tip, y0), (x1, y0), (x1, y1), (x0 + tip, y1)]
    pts = [(a / W, 1 - b / H) for a, b in pts]
    fig.add_artist(Polygon(pts, closed=True, transform=fig.transFigure, facecolor=fill,
                           edgecolor=edge if edge else fill, lw=1, zorder=20))
    if text:
        tx = x0 + 12 if not flip else (x0 + x1 - tip) / 2
        fig.text(tx / W, 1 - ((y0 + y1) / 2 + 1) / H, text, color=color, fontsize=size, family=SANS,
                 ha="left" if not flip else "center", va="center", zorder=21)


fig = plt.figure(figsize=(W / 100, H / 100), dpi=100, facecolor=BG)
X_LEFT, X_RIGHT = 93, 3259
BAR0, BAR_STEP = 109, 6.03
xlim = ((X_LEFT - BAR0) / BAR_STEP, (X_RIGHT - BAR0) / BAR_STEP)

ax_top = fig.add_axes(px_rect(X_LEFT, 0, X_RIGHT, 104), facecolor=BG)
ax_main = fig.add_axes(px_rect(X_LEFT, 104, X_RIGHT, 1325), facecolor=BG)
ax_low = fig.add_axes(px_rect(X_LEFT, 1325, X_RIGHT, 1944), facecolor=BG)
ax_right = ax_low.twinx()
ax_low.set_zorder(2)
ax_right.set_zorder(3)
ax_right.patch.set_visible(False)

for ax in [ax_top, ax_main, ax_low, ax_right]:
    ax.set_xlim(xlim)
    for s in ["top", "bottom"]:
        ax.spines[s].set_visible(False)
    for s in ["left", "right"]:
        ax.spines[s].set_color("#6E7F80")
        ax.spines[s].set_linewidth(1.3)
for ax in [ax_top, ax_main, ax_low]:
    ax.axvspan(0.17, 5, color="#E2DFD0", lw=0, zorder=0)

TICK_STYLE = dict(length=3, width=1.2, color="#6E7F80", labelsize=17.5, labelcolor="#1A2E35", pad=2)

# efficiency ratio
ax_top.set_ylim(-24.8, 157.2)
ax_top.axhline(-13.9, color="#BDBFB2", lw=1.6, zorder=1)
ax_top.axhline(25, color="#101010", lw=2.2, zorder=2)
er_x, er_y = pair(ER_BARS, er_vals)
for k in range(len(er_x) - 1):
    st = outline[min(er_x[k + 1], len(outline) - 1)]
    if (er_y[k] + er_y[k + 1]) / 2 < 25:
        seg_color = "#A0623A"
    else:
        seg_color = "#008000" if st == "g" else "#FF0000"
    ax_top.plot(er_x[k:k + 2], er_y[k:k + 2], color=seg_color, lw=1.6, ls=(0, (3, 1.5)), zorder=3)
navy_x, navy_y = pair(NAVY_BARS, navy_vals)
ax_top.plot(navy_x, navy_y, color="#000080", lw=1.3, ls=(0, (2.5, 1.2)), zorder=4)
ax_top.yaxis.tick_right()
ax_top.set_yticks([100])
ax_top.set_yticklabels(["100"])
ax_top.set_xticks([])
ax_top.tick_params(axis="y", **TICK_STYLE)
for t in ax_top.get_yticklabels():
    t.set_family(SANS)
fig.text(94 / W, 1 - 19 / H, "amaEfficiencyRatio(ES 03-26 (2000 Tick),Balanced,0.75,5,5)", family=SANS,
         fontsize=17.3, color="#1A2E35", va="center", zorder=10)

# price panel
ax_main.set_ylim(-3.25, 86.04)
for lv in range(-2, 86, 3):
    light = (lv - 61) % 12 == 0 or lv == 52
    ax_main.axhline(lv, color="#C2C3B5" if light else "#86989A", lw=1.6 if light else 1.2, zorder=1)
bars = np.arange(min(len(opens), len(closes), len(highs), len(lows), len(outline)))
op = np.array(opens[:len(bars)])
cl = np.array(closes[:len(bars)])
hi = np.array(highs[:len(bars)])
lo = np.array(lows[:len(bars)])
edge_map = {"n": "#808080", "r": "#FF0000", "g": "#008000"}
edges = [edge_map[outline[i]] for i in bars]
fills = []
for i in bars:
    up = cl[i] >= op[i]
    if outline[i] == "n":
        fills.append("#D3D3D3" if up else "#808080")
    else:
        fills.append("#FFFFFF" if up else "#000000")
ax_main.plot([6, 504], [LEVEL_OPEN, LEVEL_OPEN], color="#F39A1C", lw=2.6, ls=(0, (1, 1.4)), zorder=2)
ax_main.plot([0.2, 504], [LEVEL_LOW, LEVEL_LOW], color="#2F5050", lw=1.4, zorder=2)
ax_main.vlines(bars, lo, hi, colors=edges, lw=2.1, zorder=3)
ax_main.bar(bars, np.abs(cl - op), bottom=np.minimum(op, cl), width=1.85, color=fills, edgecolor=edges, linewidth=2.1, zorder=4)
kx = np.array(KNOT_BARS, dtype=float)
ema = np.array(ema_knots)
kama = np.array(kama_knots)
ax_main.fill_between(kx, ema, kama, where=ema >= kama, interpolate=True, color="#E8705A", alpha=0.42, lw=0, zorder=5)
ax_main.fill_between(kx, ema, kama, where=ema <= kama, interpolate=True, color="#A8A848", alpha=0.42, lw=0, zorder=5)
ax_main.plot(kx, ema, color="#2A9D8F", lw=1.5, zorder=6)
ax_main.plot(kx, kama, color="#7B7BD0", lw=1.3, ls=(0, (4, 1.5, 1, 1.5)), zorder=6)
ax_main.plot([xlim[0], xlim[1]], [LEVEL_LAST, LEVEL_LAST], color="#C49A18", lw=2.4, ls=(0, (1, 1.4)), zorder=7)
ax_main.plot([503.5, 505.5], [FOOT_MARK, FOOT_MARK], color="#FF0000", lw=1.6, zorder=7)
ax_main.yaxis.tick_right()
price_ticks = list(range(0, 81, 5))
ax_main.set_yticks(price_ticks)
ax_main.set_yticklabels(["%d.00" % (6800 + p) for p in price_ticks])
ax_main.set_xticks([])
ax_main.tick_params(axis="y", **TICK_STYLE)
for t in ax_main.get_yticklabels():
    t.set_family(SANS)

# clipped date under the top panel
ax_main.text(256, 85.9, "2/5/2026", color="#4F8FC7", fontsize=26, family=SERIF, style="italic",
             ha="center", va="center", zorder=1, clip_on=True)

title_serif = dict(family=SERIF, weight="bold", color="#0C0C0C", va="center", zorder=10)
fig.text(100 / W, 1 - 146 / H, "Pacific Time, March 2026 Contract,", fontsize=28.5, **title_serif)
fig.text(100 / W, 1 - 190 / H, "ES", fontsize=28.5, **title_serif)
fig.text(100 / W, 1 - 235 / H, "2000 Tick", fontsize=28.5, **title_serif)
fig.text(3248 / W, 1 - 129 / H, "Bar Outline controlled by Kaufman Efficiency Ratio, ama Moving Average Cross KAMA  2,7,10 & EMA 21n",
         fontsize=17.6, ha="right", **title_serif)
fig.text(100 / W, 1 - 1303 / H, "Left Side Seconds per Tick & 21n ama Moving Median / Right Side Bar Range and 21n EMA",
         fontsize=17.8, **title_serif)
fig.text(3248 / W, 1 - 1302 / H, "ATR: 4.70", fontsize=18, ha="right", va="center", family=SANS, color="#1A2E35", zorder=10)
fig.text(3190 / W, 1 - 754 / H, "1576  4", fontsize=13.5, ha="center", va="center", family=SANS, color="#333333", zorder=10)
fig.text(3196 / W, 1 - 541 / H, "R-Open", fontsize=12.5, ha="center", va="center", family=SANS, color="#F39A4A", zorder=10)
fig.text(3198 / W, 1 - 639 / H, "Pre-Low", fontsize=12.5, ha="center", va="center", family=SANS, color="#3A4A4A", zorder=10)

# bottom panel
ax_low.set_ylim(-6.5, 107.2)
ax_right.set_ylim(1.17, 11.29)
for v in [2, 5, 8, 11]:
    ax_right.axhline(v, color="#C2C3B5" if v == 8 else "#86989A", lw=1.8 if v == 8 else 1.2, zorder=1)
stem_x = np.arange(len(bar_range))
ax_low.vlines(stem_x, 0, bar_range, colors="#CF4A14", lw=1.15, zorder=2)
or_x, or_y = pair(ORANGE_BARS, orange_vals)
ax_low.plot(or_x, or_y, color="#D2501E", lw=1.4, ls=(0, (2.5, 1)), zorder=3)
teal_x, teal_y = pair(TEAL_BARS, teal_vals)
ax_right.plot(teal_x, teal_y, color="#2A9D8F", lw=1.9, zorder=4)
ax_right.plot(np.arange(len(spt_dots)), spt_dots, ls="none", marker="s", ms=5.9, mec="none", color="#2585D6", zorder=5)
ax_low.set_yticks(range(0, 101, 10))
ax_right.set_yticks(range(2, 12))
ax_low.set_xticks(TICK_BARS)
ax_low.set_xticklabels(TICK_LABELS)
ax_low.tick_params(axis="y", **TICK_STYLE)
ax_right.tick_params(axis="y", **TICK_STYLE)
ax_low.tick_params(axis="x", length=4, width=1.2, color="#6E7F80", labelsize=17.5, labelcolor="#1A2E35", pad=5)
for t in ax_low.get_yticklabels() + ax_right.get_yticklabels() + ax_low.get_xticklabels():
    t.set_family(SANS)
fig.add_artist(Line2D([X_LEFT / W, X_RIGHT / W], [1 - 1944 / H, 1 - 1944 / H], color="#6E7F80", lw=1.3))
fig.add_artist(Line2D([0, 1], [1 - 104 / H, 1 - 104 / H], color="#7F9090", lw=1.3, zorder=9))
fig.add_artist(Line2D([0, 1], [1 - 1325 / H, 1 - 1325 / H], color="#7F9090", lw=1.3, zorder=9))
fig.text(96 / W, 1 - 1925 / H, "\u00a9 2026 NinjaTrader, LLC", fontsize=17.5, family=SANS, color="#1A2E35", va="center", zorder=10)
fig.text(3 / W, 1 - 1994 / H, "ES 03-26 ES 03-26 2000 Tick", fontsize=6.5, family=SANS, color="#5A6A6A", va="center")
fig.text(3362 / W, 1 - 1993 / H, "N I N J A T R A D E R", fontsize=10, weight="bold", family=SANS, color="#E8402A",
         ha="right", va="center")

# value tags on the axes
draw_tag(fig, 3257, 3364, 92, 103, "#8C8C8C", "", "#000000")
draw_tag(fig, 3255, 3364, 66, 96, "#000080", "25.02", "#FFFFFF")
draw_tag(fig, 3255, 3364, 681, 712, "#2A9D8F", "6842.75", "#101010")
draw_tag(fig, 3255, 3364, 739, 756, "#6B6FC9", "", "#000000")
draw_tag(fig, 3255, 3364, 749, 778, "#F2EDDC", "6837.75", "#101010", edge="#777777")
draw_tag(fig, 3255, 3364, 1727, 1757, "#2A9D8F", "4.47", "#101010")
draw_tag(fig, 3255, 3364, 1757, 1785, "#2585D6", "4", "#FFFFFF")
draw_tag(fig, 2, 98, 1517, 1547, "#C94F16", "69", "#FFFFFF", flip=True)

fig.savefig("out.png", dpi=100, facecolor=BG)
